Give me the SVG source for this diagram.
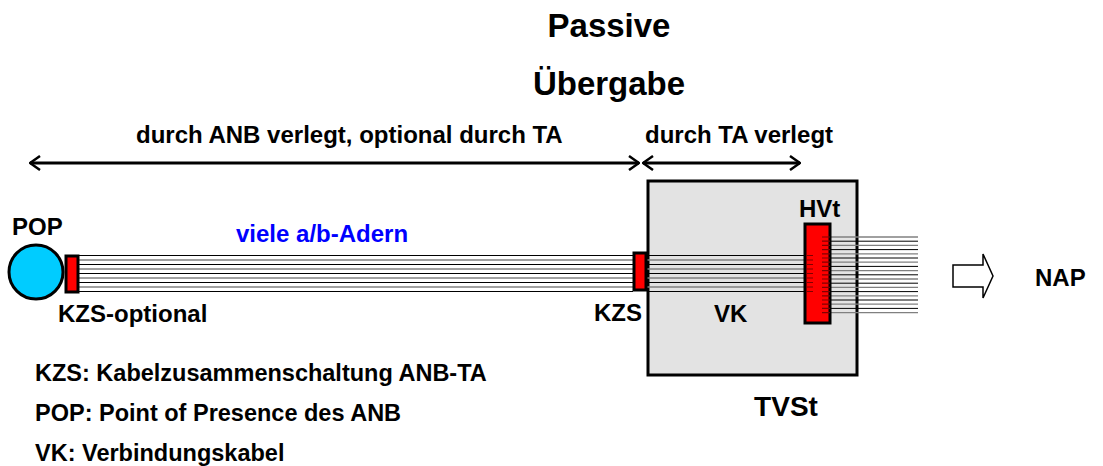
<svg xmlns="http://www.w3.org/2000/svg" width="1103" height="466" viewBox="0 0 1103 466">
<style>
text{font-family:"Liberation Sans",Arial,sans-serif;font-weight:bold;fill:#000}
.t24{font-size:24px}
.leg{font-size:23.5px}
.title{font-size:33px}
.blue{fill:#0000ff}
.wb{stroke:#000;stroke-width:1}
.wg{stroke:#808080;stroke-width:1.3}
.dim{stroke:#000;stroke-width:3;fill:none}
.red{fill:#ff0000;stroke:#000;stroke-width:3}
.tick{stroke:#800000;stroke-width:1.2}
</style>
<defs>
<marker id="chev" viewBox="0 0 12 16" refX="11" refY="8" markerWidth="12" markerHeight="16" markerUnits="userSpaceOnUse" orient="auto-start-reverse">
<path d="M1,1 L11,8 L1,15" fill="none" stroke="#000" stroke-width="2.5"/>
</marker>
</defs>
<rect width="1103" height="466" fill="#fff"/>
<g id="title">
<text class="title" x="609" y="37" text-anchor="middle">Passive</text>
<text class="title" x="609" y="95" text-anchor="middle">Übergabe</text>
</g>
<g id="connectors">
<line class="dim" x1="30" y1="163" x2="639" y2="163" marker-start="url(#chev)" marker-end="url(#chev)"/>
<line class="dim" x1="643" y1="163" x2="800" y2="163" marker-start="url(#chev)" marker-end="url(#chev)"/>
</g>
<text class="t24" x="136" y="143">durch ANB verlegt, optional durch TA</text>
<text class="t24" x="645" y="143">durch TA verlegt</text>
<g id="tvst">
<rect x="648" y="181" width="209" height="194" fill="#e3e3e3" stroke="#000" stroke-width="3"/>
<text x="786" y="416" text-anchor="middle" style="font-size:28px">TVSt</text>
</g>
<g id="cable">
<g class="wires-left">
<line class="wb" x1="79" y1="255.5" x2="633" y2="255.5"/>
<line class="wg" x1="79" y1="260" x2="633" y2="260"/>
<line class="wb" x1="79" y1="264.5" x2="633" y2="264.5"/>
<line class="wg" x1="79" y1="269" x2="633" y2="269"/>
<line class="wb" x1="79" y1="273.5" x2="633" y2="273.5"/>
<line class="wg" x1="79" y1="278" x2="633" y2="278"/>
<line class="wb" x1="79" y1="282.5" x2="633" y2="282.5"/>
<line class="wg" x1="79" y1="287" x2="633" y2="287"/>
<line class="wb" x1="79" y1="291.5" x2="633" y2="291.5"/>
</g>
<g class="wires-vk">
<line class="wb" x1="647" y1="255.5" x2="806" y2="255.5"/>
<line class="wg" x1="647" y1="260" x2="806" y2="260"/>
<line class="wb" x1="647" y1="264.5" x2="806" y2="264.5"/>
<line class="wg" x1="647" y1="269" x2="806" y2="269"/>
<line class="wb" x1="647" y1="273.5" x2="806" y2="273.5"/>
<line class="wg" x1="647" y1="278" x2="806" y2="278"/>
<line class="wb" x1="647" y1="282.5" x2="806" y2="282.5"/>
<line class="wg" x1="647" y1="287" x2="806" y2="287"/>
<line class="wb" x1="647" y1="291.5" x2="806" y2="291.5"/>
</g>
<text class="t24 blue" x="236" y="242">viele a/b-Adern</text>
<text class="t24" x="714" y="322">VK</text>
</g>
<g id="pop">
<circle cx="36" cy="272" r="27" fill="#00ccff" stroke="#000" stroke-width="3"/>
<text class="t24" x="12" y="235">POP</text>
</g>
<g id="kzs-optional">
<rect class="red" x="66" y="256" width="12" height="36"/>
<text class="t24" x="58" y="322">KZS-optional</text>
</g>
<g id="kzs">
<rect class="red" x="634" y="253" width="12" height="37"/>
<text class="t24" x="594" y="321">KZS</text>
</g>
<g id="hvt">
<g class="wires-out">
<line class="wg" x1="822" y1="237" x2="918" y2="237"/>
<line class="wb" x1="822" y1="241.2" x2="918" y2="241.2"/>
<line class="wg" x1="822" y1="245.4" x2="918" y2="245.4"/>
<line class="wb" x1="822" y1="249.6" x2="918" y2="249.6"/>
<line class="wg" x1="822" y1="253.8" x2="918" y2="253.8"/>
<line class="wb" x1="822" y1="258" x2="918" y2="258"/>
<line class="wg" x1="822" y1="262.2" x2="918" y2="262.2"/>
<line class="wb" x1="822" y1="266.4" x2="918" y2="266.4"/>
<line class="wg" x1="822" y1="270.6" x2="918" y2="270.6"/>
<line class="wb" x1="822" y1="274.8" x2="918" y2="274.8"/>
<line class="wg" x1="822" y1="279" x2="918" y2="279"/>
<line class="wb" x1="822" y1="283.2" x2="918" y2="283.2"/>
<line class="wg" x1="822" y1="287.4" x2="918" y2="287.4"/>
<line class="wb" x1="822" y1="291.6" x2="918" y2="291.6"/>
<line class="wg" x1="822" y1="295.8" x2="918" y2="295.8"/>
<line class="wb" x1="822" y1="300" x2="918" y2="300"/>
<line class="wg" x1="822" y1="304.2" x2="918" y2="304.2"/>
<line class="wb" x1="822" y1="308.4" x2="918" y2="308.4"/>
<line class="wg" x1="822" y1="312.6" x2="918" y2="312.6"/>
</g>
<rect class="red" x="805" y="224" width="25" height="99"/>
<path class="tick" d="M822,237H830M822,241.2H830M822,245.4H830M822,249.6H830M822,253.8H830M822,258H830M822,262.2H830M822,266.4H830M822,270.6H830M822,274.8H830M822,279H830M822,283.2H830M822,287.4H830M822,291.6H830M822,295.8H830M822,300H830M822,304.2H830M822,308.4H830M822,312.6H830"/>
<path class="tick" d="M806,255.5H813M806,260H813M806,264.5H813M806,269H813M806,273.5H813M806,278H813M806,282.5H813M806,287H813M806,291.5H813"/>
<text class="t24" x="799" y="217">HVt</text>
</g>
<g id="nap">
<polygon points="953,265 983,265 983,254 993,276 983,298 983,287 953,287" fill="#fff" stroke="#000" stroke-width="1.5"/>
<text class="t24" x="1035" y="286">NAP</text>
</g>
<g id="legend">
<text class="leg" x="35" y="381">KZS: Kabelzusammenschaltung ANB-TA</text>
<text class="leg" x="35" y="421">POP: Point of Presence des ANB</text>
<text class="leg" x="35" y="461">VK: Verbindungskabel</text>
</g>
</svg>
